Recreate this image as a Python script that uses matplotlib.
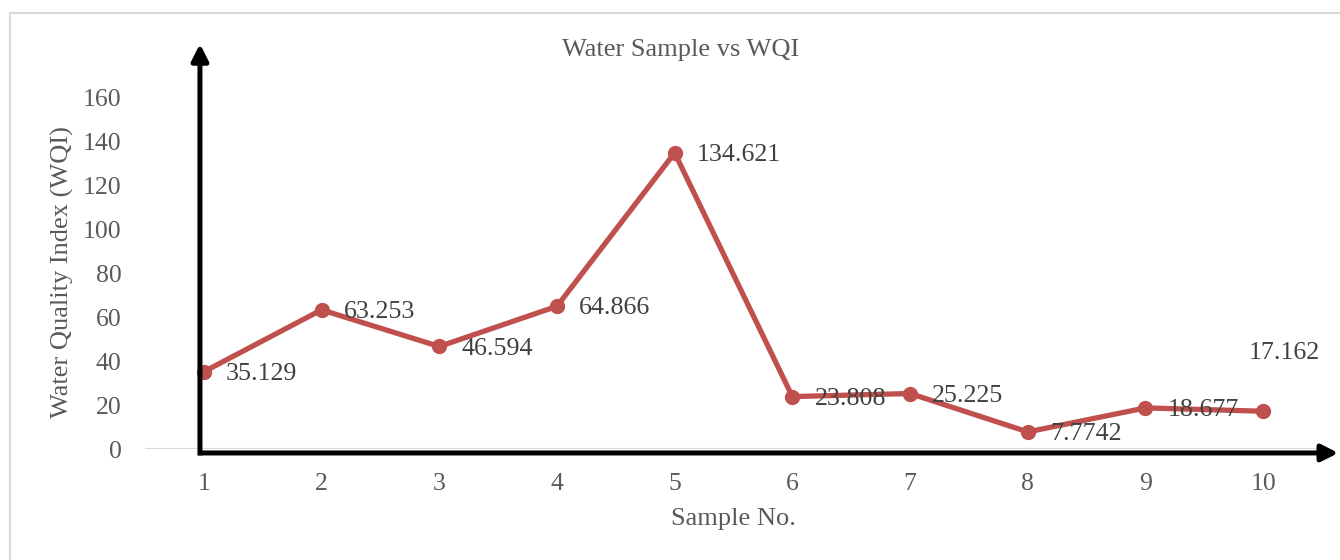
import matplotlib.pyplot as plt
from matplotlib.patches import Rectangle

# Data
samples = [1, 2, 3, 4, 5, 6, 7, 8, 9, 10]
wqi = [35.129, 63.253, 46.594, 64.866, 134.621, 23.808, 25.225, 7.7742, 18.677, 17.162]
labels = ['35.129', '63.253', '46.594', '64.866', '134.621',
          '23.808', '25.225', '7.7742', '18.677', '17.162']
y_ticks = [0, 20, 40, 60, 80, 100, 120, 140, 160]

LINE_COLOR = '#C0504D'
TICK_COLOR = '#595959'
LABEL_COLOR = '#404040'

plt.rcParams['font.family'] = ['Liberation Serif', 'DejaVu Serif']

fig = plt.figure(figsize=(13.4, 5.6), dpi=100)
ax = fig.add_axes([145 / 1340, 1 - 449 / 560, 1177 / 1340, 352 / 560])

# light chart border (cropped on right/bottom in the original)
fig.patches.append(Rectangle((9.5 / 1340, -0.1), 1.2, (560 - 12.5) / 560 + 0.1,
                             transform=fig.transFigure, fill=False,
                             edgecolor='#d9d9d9', lw=1.5))

ax.plot(samples, wqi, color=LINE_COLOR, lw=3.8, marker='o', markersize=10,
        solid_capstyle='round', zorder=3)

for x, y, s in zip(samples, wqi, labels):
    if x == 10:
        ax.annotate(s, (x, y), xytext=(15, 42), textcoords='offset points',
                    ha='center', va='center', fontsize=18.7, color=LABEL_COLOR,
                    annotation_clip=False)
    else:
        ax.annotate(s, (x, y), xytext=(16, -1.5), textcoords='offset points',
                    ha='left', va='center', fontsize=18.7, color=LABEL_COLOR,
                    annotation_clip=False, zorder=4)

ax.set_xlim(0.5, 10.5)
ax.set_ylim(0, 160)
ax.set_xticks(samples)
ax.set_yticks(y_ticks)
ax.tick_params(axis='both', length=0, labelsize=18.5, labelcolor=TICK_COLOR)
ax.tick_params(axis='x', pad=17)
ax.tick_params(axis='y', pad=17)
for sp in ax.spines.values():
    sp.set_visible(False)
ax.axhline(0, color='#d9d9d9', lw=1.5, zorder=1)

# thick black arrow axes
arrow = dict(arrowstyle='-|>', color='black', lw=3.6, mutation_scale=25,
             shrinkA=0, shrinkB=0, capstyle='butt')
ax.annotate('', xy=(0.967, 184.2), xytext=(0.967, -2.9), xycoords='data',
            arrowprops=arrow, annotation_clip=False)
ax.annotate('', xy=(10.64, -1.8), xytext=(0.95, -1.8), xycoords='data',
            arrowprops=arrow, annotation_clip=False)

fig.text(681 / 1340, 1 - 50 / 560, 'Water Sample vs WQI', ha='center', va='center',
         fontsize=19, color=TICK_COLOR)
fig.text(62 / 1340, 1 - 272 / 560, 'Water Quality Index (WQI)', ha='center',
         va='center', rotation=90, fontsize=19, color=TICK_COLOR)
fig.text(733 / 1340, 1 - 519 / 560, 'Sample No.', ha='center', va='center',
         fontsize=19, color=TICK_COLOR)

fig.savefig('out.png', dpi=100)
